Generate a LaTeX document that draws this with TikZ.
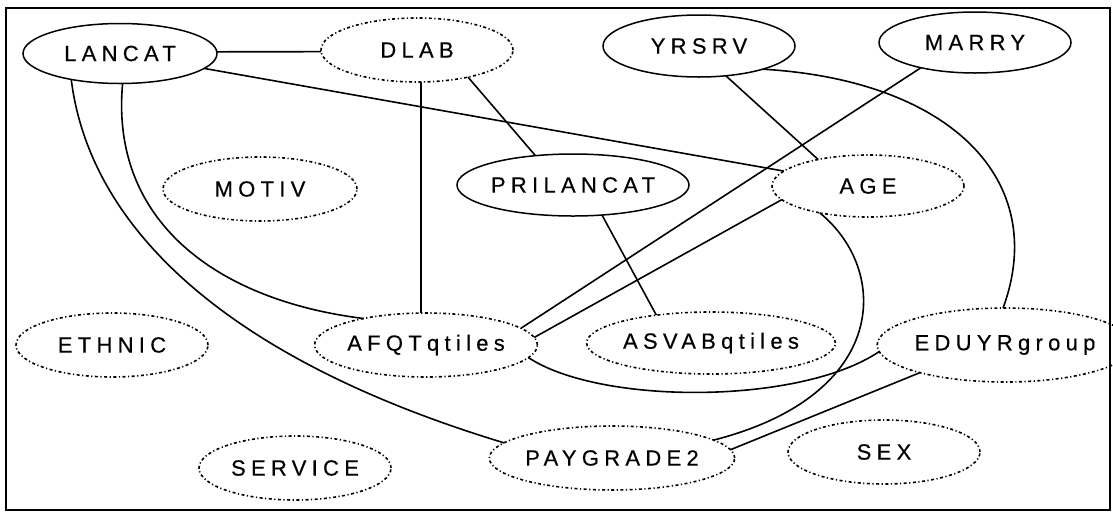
\documentclass[tikz,border=0pt]{standalone}
\usepackage{fontspec}
\usetikzlibrary{shapes.geometric}
\newfontfamily\labfont[LetterSpace=24,FakeBold=0.4]{Liberation Sans}
\tikzset{
  var/.style={ellipse, draw, line width=1.5pt, inner sep=0pt, outer sep=0pt,
    font=\labfont\fontsize{22}{26}\selectfont},
  latent/.style={var, line width=1.6pt, dash pattern=on 3pt off 2.5pt on 1.2pt off 2.5pt},
  edge/.style={line width=1.6pt}
}
\begin{document}
\begin{tikzpicture}[x=1pt,y=-1pt]
\useasboundingbox (0,0) rectangle (1113,512);
\draw[line width=1.8pt] (6,8) rectangle (1110,510);
% nodes
\node[var, minimum width=194pt, minimum height=60pt] (LANCAT) at (120,53.5) {LANCAT};
\node[latent, minimum width=192pt, minimum height=64pt] (DLAB) at (417,50) {DLAB};
\node[var, minimum width=192pt, minimum height=62pt] (YRSRV) at (699,46) {YRSRV};
\node[var, minimum width=192pt, minimum height=61pt] (MARRY) at (975,42.5) {MARRY};
\node[latent, minimum width=194pt, minimum height=64pt] (MOTIV) at (260,189) {MOTIV};
\node[var, minimum width=192pt, minimum height=62pt] (PRILANCAT) at (573,185) {PRILANCAT};
\node[latent, minimum width=192pt, minimum height=62pt] (AGE) at (868,186) {AGE};
\node[latent, minimum width=192pt, minimum height=64pt] (ETHNIC) at (112,345) {ETHNIC};
\node[latent, minimum width=194pt, minimum height=64pt] (AFQTqtiles) at (426,345) {AFQTqtiles};
\node[latent, minimum width=248pt, minimum height=62pt] (ASVABqtiles) at (711,343) {ASVABqtiles};
\node[latent, minimum width=212pt, minimum height=74pt] (EDUYRgroup) at (1005,345) {EDUYRgroup};
\node[latent, minimum width=192pt, minimum height=64pt] (SERVICE) at (295,468) {SERVICE};
\node[latent, minimum width=224pt, minimum height=64pt] (PAYGRADE2) at (612,458) {PAYGRADE2};
\node[latent, minimum width=192pt, minimum height=64pt] (SEX) at (884,452) {SEX};
% straight edges
\draw[edge] (LANCAT.1) -- (DLAB.181);
\draw[edge] (LANCAT) -- (AGE);
\draw[edge] ([xshift=4pt]DLAB.south) -- ([xshift=-5pt]AFQTqtiles.north);
\draw[edge] (DLAB.-28.5) -- (PRILANCAT.142.6);
\draw[edge] (YRSRV.-48) -- (AGE.152.5);
\draw[edge] (MARRY.205) -- (AFQTqtiles.10);
\draw[edge] (AGE.189) -- (AFQTqtiles.4);
\draw[edge] (PRILANCAT.-46) -- (ASVABqtiles.153);
\draw[edge] (EDUYRgroup.198) -- (PAYGRADE2.4);
% curved edges
\draw[edge] (LANCAT.208) .. controls (90,230) and (230,360) .. (PAYGRADE2.172);
\draw[edge] (LANCAT.275) .. controls (110,220) and (215,300) .. (AFQTqtiles.157);
\draw[edge] (AFQTqtiles.-7) .. controls (600,405) and (800,405) .. (EDUYRgroup.183);
\draw[edge] (AGE.209.5) .. controls (890,270) and (890,395) .. (PAYGRADE2.10);
\draw[edge] (YRSRV.-20) .. controls (950,80) and (1050,180) .. (EDUYRgroup.93);
\end{tikzpicture}
\end{document}
